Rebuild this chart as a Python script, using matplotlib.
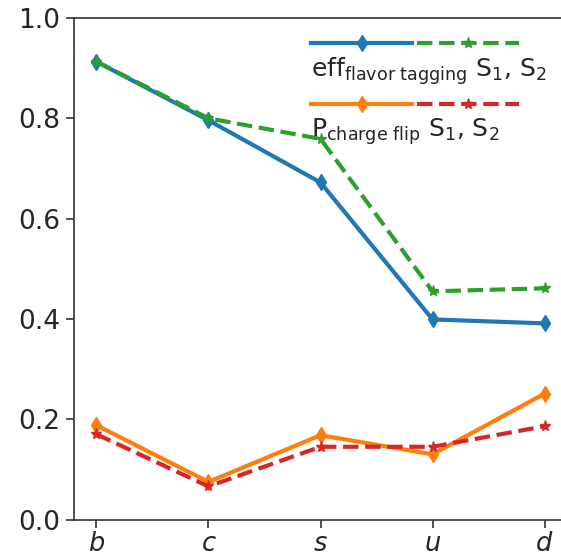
import matplotlib
matplotlib.use("Agg")
import matplotlib.pyplot as plt
from matplotlib.legend_handler import HandlerTuple

flavors = ["b", "c", "s", "u", "d"]
eff_s1 = [0.913, 0.796, 0.672, 0.399, 0.391]
eff_s2 = [0.913, 0.800, 0.759, 0.455, 0.461]
flip_s1 = [0.188, 0.075, 0.168, 0.130, 0.251]
flip_s2 = [0.170, 0.066, 0.145, 0.145, 0.186]
yticks = [0.0, 0.2, 0.4, 0.6, 0.8, 1.0]

W, H = 561, 556
fig = plt.figure(figsize=(W / 100, H / 100), dpi=100)
ax = fig.add_axes([74 / W, (H - 519.5) / H, 493 / W, 501.5 / H])

x = list(range(len(flavors)))
l1, = ax.plot(x, eff_s1, color="#1f77b4", lw=3, ls="-", marker="d", ms=8.5)
l2, = ax.plot(x, eff_s2, color="#2ca02c", lw=3, ls="--", marker="*", ms=8)
l3, = ax.plot(x, flip_s1, color="#ff7f0e", lw=3, ls="-", marker="d", ms=8.5)
l4, = ax.plot(x, flip_s2, color="#d62728", lw=3, ls="--", marker="*", ms=8)

ax.set_xlim(-0.2, 4.2)
ax.set_ylim(0.0, 1.0)
ax.set_xticks(x)
ax.set_xticklabels([f"${f}$" for f in flavors])
ax.set_yticks(yticks)
ax.set_yticklabels([f"{v:.1f}" for v in yticks])
for side in ("left", "bottom", "top"):
    ax.spines[side].set_color("#333333")
    ax.spines[side].set_linewidth(1.2)
ax.spines["right"].set_visible(False)
ax.tick_params(axis="both", direction="out", length=6, width=1.2,
               color="#333333", labelcolor="#262626")
ax.tick_params(axis="y", pad=4, labelsize=19)
ax.tick_params(axis="x", pad=2, labelsize=18.5)


class RaisedTuple(HandlerTuple):
    """Tuple handler that draws the handles above the label text."""

    def __init__(self, shift, **kw):
        super().__init__(**kw)
        self.shift = shift

    def create_artists(self, legend, orig_handle, xdescent, ydescent,
                       width, height, fontsize, trans):
        return super().create_artists(legend, orig_handle, xdescent,
                                      ydescent - self.shift, width, height,
                                      fontsize, trans)


labels = [r"$\mathrm{eff}_{\mathrm{flavor\ tagging}}$ S$_1$, S$_2$",
          r"$\mathrm{P}_{\mathrm{charge\ flip}}$ S$_1$, S$_2$"]
hl = 8.3
leg = ax.legend([(l1, l2), (l3, l4)], labels,
                handler_map={tuple: RaisedTuple(35.5, ndivide=None, pad=0.2)},
                handlelength=hl, handletextpad=-hl, frameon=False,
                fontsize=18, labelspacing=1.2, borderpad=0, borderaxespad=0,
                loc="upper left", bbox_to_anchor=(311 / W, (H - 55) / H),
                bbox_transform=fig.transFigure, numpoints=1)
for t in leg.get_texts():
    t.set_color("#262626")

fig.savefig("out.png", dpi=100)
